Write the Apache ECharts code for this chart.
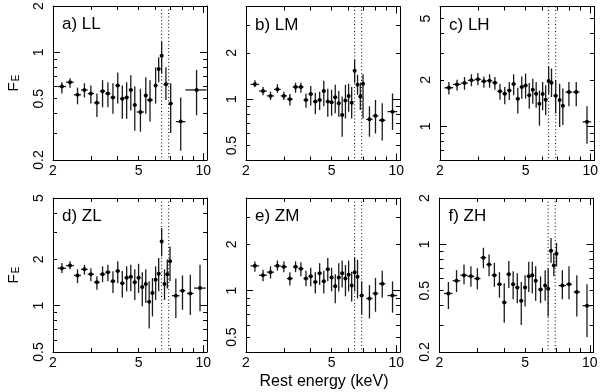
<!DOCTYPE html>
<html lang="en">
<head>
<meta charset="UTF-8">
<title>F_E vs rest energy</title>
<script src="https://cdn.jsdelivr.net/npm/echarts@6/dist/echarts.min.js"></script>
<style>
    html, body { margin: 0; padding: 0; background: #fff; }
    #chart { width: 600px; height: 392px; }
</style>
</head>
<body>
<div id="chart"></div>
<script type="text/javascript">
    // rows: [energy (keV), half bin width, F_E, lower, upper]
    const LL = [
        [2.2, 0.1, 0.60, 0.54, 0.64], [2.4, 0.1, 0.64, 0.59, 0.68], [2.6, 0.1, 0.53, 0.46, 0.59],
        [2.8, 0.1, 0.57, 0.51, 0.63], [3.0, 0.1, 0.54, 0.465, 0.61], [3.2, 0.1, 0.47, 0.38, 0.54],
        [3.4, 0.1, 0.56, 0.44, 0.66], [3.6, 0.1, 0.54, 0.44, 0.64], [3.8, 0.1, 0.51, 0.40, 0.63],
        [4.0, 0.1, 0.61, 0.465, 0.74], [4.2, 0.1, 0.50, 0.37, 0.61], [4.4, 0.1, 0.51, 0.37, 0.64],
        [4.6, 0.1, 0.57, 0.42, 0.71], [4.8, 0.1, 0.455, 0.31, 0.60], [5.1, 0.2, 0.41, 0.305, 0.58],
        [5.4, 0.08, 0.525, 0.40, 0.69], [5.65, 0.18, 0.49, 0.355, 0.66], [6.0, 0.1, 0.61, 0.465, 0.80],
        [6.2, 0.1, 0.78, 0.64, 0.93], [6.4, 0.1, 0.95, 0.73, 1.17], [6.7, 0.17, 0.62, 0.49, 0.80],
        [7.05, 0.15, 0.465, 0.30, 0.63], [7.85, 0.4, 0.355, 0.23, 0.51], [9.3, 1.05, 0.57, 0.39, 0.77]
    ];
    const LM = [
        [2.2, 0.1, 1.25, 1.20, 1.33], [2.4, 0.1, 1.13, 1.06, 1.20], [2.6, 0.1, 1.05, 0.99, 1.12],
        [2.8, 0.1, 1.16, 1.10, 1.25], [3.0, 0.1, 1.05, 0.99, 1.12], [3.2, 0.1, 1.00, 0.91, 1.08],
        [3.4, 0.1, 1.20, 1.10, 1.28], [3.6, 0.1, 1.20, 1.10, 1.28], [3.8, 0.1, 0.99, 0.88, 1.09],
        [4.0, 0.1, 1.08, 0.91, 1.22], [4.2, 0.1, 0.965, 0.80, 1.10], [4.4, 0.1, 0.99, 0.85, 1.12],
        [4.6, 0.1, 1.13, 0.90, 1.32], [4.8, 0.1, 0.965, 0.77, 1.17], [5.0, 0.1, 0.955, 0.78, 1.15],
        [5.2, 0.1, 1.03, 0.81, 1.24], [5.4, 0.1, 0.94, 0.77, 1.13], [5.6, 0.1, 0.79, 0.57, 1.04],
        [5.8, 0.1, 0.98, 0.75, 1.24], [6.0, 0.1, 1.05, 0.83, 1.26], [6.2, 0.1, 0.95, 0.75, 1.20],
        [6.4, 0.1, 1.53, 1.28, 1.80], [6.6, 0.1, 1.24, 1.07, 1.44], [6.8, 0.1, 1.04, 0.85, 1.28],
        [7.0, 0.1, 1.26, 0.75, 1.45], [7.5, 0.25, 0.74, 0.57, 0.90], [8.0, 0.25, 0.78, 0.60, 0.99],
        [8.6, 0.3, 0.73, 0.54, 0.94], [9.6, 0.5, 0.83, 0.63, 1.09]
    ];
    const LH = [
        [2.2, 0.1, 1.78, 1.61, 1.94], [2.4, 0.1, 1.87, 1.71, 2.01], [2.6, 0.1, 1.91, 1.73, 2.09],
        [2.8, 0.1, 1.99, 1.82, 2.18], [3.0, 0.1, 2.02, 1.85, 2.22], [3.2, 0.1, 1.96, 1.78, 2.11],
        [3.4, 0.1, 1.98, 1.78, 2.18], [3.6, 0.1, 1.92, 1.73, 2.09], [3.8, 0.1, 1.69, 1.49, 1.88],
        [4.0, 0.1, 1.63, 1.39, 1.80], [4.2, 0.1, 1.71, 1.48, 1.94], [4.4, 0.1, 1.88, 1.59, 2.18],
        [4.6, 0.1, 1.51, 1.21, 1.78], [4.8, 0.1, 1.80, 1.51, 2.11], [5.0, 0.1, 1.84, 1.51, 2.20],
        [5.2, 0.1, 1.59, 1.30, 1.91], [5.4, 0.1, 1.73, 1.40, 2.04], [5.6, 0.1, 1.63, 1.32, 1.94],
        [5.8, 0.1, 1.40, 1.01, 1.71], [6.0, 0.1, 1.62, 1.27, 1.94], [6.2, 0.1, 1.49, 1.18, 1.85],
        [6.4, 0.1, 1.97, 1.63, 2.43], [6.6, 0.1, 1.92, 1.55, 2.37], [6.9, 0.15, 1.58, 1.21, 1.99],
        [7.2, 0.12, 1.48, 0.99, 1.89], [7.45, 0.12, 1.36, 1.02, 1.76], [7.95, 0.3, 1.67, 1.35, 1.94],
        [8.6, 0.3, 1.67, 1.35, 1.94], [9.65, 0.45, 1.07, 0.77, 1.35]
    ];
    const ZL = [
        [2.2, 0.1, 1.75, 1.63, 1.89], [2.4, 0.1, 1.82, 1.72, 1.94], [2.6, 0.1, 1.57, 1.40, 1.72],
        [2.8, 0.1, 1.72, 1.59, 1.84], [3.0, 0.1, 1.60, 1.44, 1.75], [3.2, 0.1, 1.42, 1.27, 1.55],
        [3.4, 0.1, 1.60, 1.42, 1.80], [3.6, 0.1, 1.65, 1.44, 1.84], [3.8, 0.1, 1.44, 1.21, 1.67],
        [4.0, 0.1, 1.68, 1.40, 1.94], [4.2, 0.1, 1.40, 1.13, 1.68], [4.4, 0.1, 1.52, 1.24, 1.80],
        [4.6, 0.1, 1.54, 1.24, 1.84], [4.8, 0.1, 1.42, 1.09, 1.72], [5.0, 0.1, 1.52, 1.21, 1.87],
        [5.2, 0.1, 1.32, 0.99, 1.65], [5.4, 0.1, 1.38, 1.04, 1.72], [5.6, 0.1, 1.06, 0.71, 1.44],
        [5.8, 0.1, 1.21, 0.85, 1.51], [6.0, 0.1, 1.47, 1.09, 1.80], [6.2, 0.1, 1.61, 1.24, 2.04],
        [6.4, 0.1, 2.61, 2.09, 3.19], [6.6, 0.1, 1.38, 1.09, 1.72], [6.8, 0.1, 1.60, 1.29, 1.99],
        [7.0, 0.1, 1.94, 1.44, 2.42], [7.45, 0.3, 1.16, 0.83, 1.50], [8.0, 0.25, 1.25, 0.94, 1.57],
        [8.7, 0.3, 1.20, 0.87, 1.59], [9.65, 0.6, 1.30, 0.92, 1.84]
    ];
    const ZM = [
        [2.2, 0.1, 1.45, 1.33, 1.55], [2.4, 0.1, 1.26, 1.15, 1.37], [2.6, 0.1, 1.32, 1.20, 1.44],
        [2.8, 0.1, 1.45, 1.35, 1.57], [3.0, 0.1, 1.43, 1.32, 1.55], [3.2, 0.1, 1.20, 1.08, 1.32],
        [3.4, 0.1, 1.43, 1.32, 1.55], [3.6, 0.1, 1.39, 1.24, 1.53], [3.8, 0.1, 1.20, 1.07, 1.35],
        [4.0, 0.1, 1.24, 1.07, 1.41], [4.2, 0.1, 1.14, 0.96, 1.32], [4.4, 0.1, 1.30, 1.09, 1.51],
        [4.6, 0.1, 1.15, 0.96, 1.35], [4.8, 0.1, 1.38, 1.15, 1.63], [5.0, 0.1, 1.22, 0.99, 1.41],
        [5.2, 0.1, 1.07, 0.83, 1.28], [5.4, 0.1, 1.22, 0.99, 1.51], [5.6, 0.1, 1.30, 1.05, 1.57],
        [5.8, 0.1, 1.20, 0.92, 1.47], [6.0, 0.1, 1.27, 0.99, 1.57], [6.2, 0.1, 1.08, 0.85, 1.33],
        [6.4, 0.1, 1.32, 0.99, 1.65], [6.6, 0.1, 1.23, 0.89, 1.59], [6.9, 0.15, 0.93, 0.70, 1.15],
        [7.5, 0.25, 0.89, 0.66, 1.09], [8.0, 0.25, 0.96, 0.73, 1.21], [8.6, 0.3, 1.11, 0.90, 1.35],
        [9.6, 0.5, 0.93, 0.72, 1.15]
    ];
    const ZH = [
        [2.2, 0.1, 0.48, 0.38, 0.57], [2.4, 0.1, 0.58, 0.49, 0.68], [2.6, 0.1, 0.63, 0.55, 0.74],
        [2.8, 0.1, 0.62, 0.53, 0.72], [3.0, 0.1, 0.60, 0.51, 0.70], [3.2, 0.1, 0.82, 0.70, 0.95],
        [3.4, 0.1, 0.74, 0.62, 0.86], [3.6, 0.1, 0.63, 0.53, 0.76], [3.8, 0.1, 0.55, 0.45, 0.66],
        [4.0, 0.1, 0.42, 0.31, 0.56], [4.2, 0.1, 0.64, 0.52, 0.78], [4.4, 0.1, 0.55, 0.44, 0.67],
        [4.6, 0.1, 0.525, 0.415, 0.65], [4.8, 0.1, 0.43, 0.30, 0.57], [5.0, 0.1, 0.525, 0.395, 0.63],
        [5.2, 0.1, 0.62, 0.49, 0.77], [5.4, 0.1, 0.63, 0.48, 0.77], [5.6, 0.1, 0.58, 0.43, 0.72],
        [5.9, 0.15, 0.51, 0.415, 0.62], [6.2, 0.1, 0.54, 0.43, 0.68], [6.4, 0.1, 0.515, 0.34, 0.70],
        [6.6, 0.1, 0.91, 0.76, 1.10], [6.8, 0.1, 0.73, 0.62, 0.88], [7.0, 0.1, 0.87, 0.72, 1.02],
        [7.45, 0.3, 0.54, 0.44, 0.68], [8.0, 0.25, 0.55, 0.44, 0.72], [8.7, 0.3, 0.49, 0.34, 0.63],
        [9.7, 0.45, 0.40, 0.25, 0.55]
    ];

    const panelNames = ['a) LL', 'b) LM', 'c) LH', 'd) ZL', 'e) ZM', 'f) ZH'];
    const panelData = [LL, LM, LH, ZL, ZM, ZH];
    const xRange = [2, 10.4];
    const xLabels = [2, 5, 10];
    const yRanges = [[0.2, 2], [0.4, 4], [0.6, 6], [0.5, 5], [0.4, 4], [0.2, 2]];
    const yLabels = [[0.2, 0.5, 1, 2], [0.5, 1, 2], [1, 2, 5], [0.5, 1, 2, 5], [0.5, 1, 2], [0.2, 0.5, 1, 2]];
    const lineEnergies = [6.4, 6.9];

    const gridPos = [[53, 6], [246, 6.5], [440, 6.5], [53, 198], [246, 198], [439.5, 198]];
    const boxW = 154, boxH = 154;
    const font = 'Liberation Sans, Arial, Helvetica, sans-serif';
    const lg = Math.log10;

    // log ticks: k * 10^d inside [lo, hi]; decade=true gives only k == 1
    function logTicks(lo, hi, decade) {
        const out = [];
        for (let d = Math.floor(lg(lo)) - 1; d <= Math.ceil(lg(hi)); d++) {
            for (let k = 1; k <= 9; k++) {
                const v = k * Math.pow(10, d);
                if (v < lo * 0.9999 || v > hi * 1.0001) continue;
                if ((k === 1) === decade) out.push(lg(v));
            }
        }
        return out;
    }

    function fmt(v) {
        return String(parseFloat(Math.pow(10, v).toPrecision(2)));
    }

    function makeAxes(i, dim, range, labels) {
        const list = [];
        const sides = dim === 'x' ? ['bottom', 'top'] : ['left', 'right'];
        sides.forEach(function (side, s) {
            [false, true].forEach(function (decade) {
                const first = s === 0 && !decade;
                list.push({
                    gridIndex: i,
                    type: 'value',
                    position: side,
                    min: lg(range[0]),
                    max: lg(range[1]),
                    splitLine: {show: false},
                    axisLine: {show: !decade, onZero: false, lineStyle: {color: '#000', width: 1}},
                    axisTick: {
                        show: true, inside: true, length: decade ? 7 : 4,
                        customValues: logTicks(range[0], range[1], decade),
                        lineStyle: {color: '#000', width: 1}
                    },
                    axisLabel: first ? {
                        show: true,
                        customValues: labels.map(lg),
                        formatter: fmt,
                        rotate: dim === 'y' ? 90 : 0,
                        margin: dim === 'y' ? 7 : 4,
                        fontSize: 14,
                        fontFamily: font,
                        color: '#000'
                    } : {show: false}
                });
            });
        });
        return list;
    }

    function drawPoint(params, api) {
        const c = api.coord([api.value(0), api.value(1)]);
        const l = api.coord([api.value(2), api.value(1)]);
        const r = api.coord([api.value(3), api.value(1)]);
        const b = api.coord([api.value(0), api.value(4)]);
        const t = api.coord([api.value(0), api.value(5)]);
        const st = {stroke: '#1a1a1a', lineWidth: 1.3};
        return {
            type: 'group',
            children: [
                {type: 'line', shape: {x1: l[0], y1: c[1], x2: r[0], y2: c[1]}, style: st},
                {type: 'line', shape: {x1: c[0], y1: b[1], x2: c[0], y2: t[1]}, style: st},
                {type: 'circle', shape: {cx: c[0], cy: c[1], r: 2}, style: {fill: '#000'}}
            ]
        };
    }

    function drawFeLine(params, api) {
        const p = api.coord([api.value(0), api.value(1)]);
        const cs = params.coordSys;
        return {
            type: 'line',
            shape: {x1: p[0], y1: cs.y, x2: p[0], y2: cs.y + cs.height},
            style: {stroke: '#000', lineWidth: 1, lineDash: [1, 2.5]}
        };
    }

    const grids = [], xAxes = [], yAxes = [], series = [], graphics = [];
    panelData.forEach(function (rows, i) {
        grids.push({left: gridPos[i][0], top: gridPos[i][1], width: boxW, height: boxH, outerBoundsMode: 'none'});
        makeAxes(i, 'x', xRange, xLabels).forEach(a => xAxes.push(a));
        makeAxes(i, 'y', yRanges[i], yLabels[i]).forEach(a => yAxes.push(a));
        series.push({
            type: 'custom',
            xAxisIndex: 4 * i,
            yAxisIndex: 4 * i,
            renderItem: drawFeLine,
            encode: {x: 0, y: 1},
            data: lineEnergies.map(e => [lg(e), lg(yRanges[i][0])]),
            silent: true,
            z: 2
        });
        series.push({
            type: 'custom',
            xAxisIndex: 4 * i,
            yAxisIndex: 4 * i,
            renderItem: drawPoint,
            encode: {x: 0, y: 1},
            clip: true,
            data: rows.map(r => [lg(r[0]), lg(r[2]), lg(r[0] - r[1]), lg(r[0] + r[1]), lg(r[3]), lg(r[4])]),
            silent: true,
            z: 3
        });
        graphics.push({
            type: 'text',
            x: gridPos[i][0] + 9,
            y: gridPos[i][1] + 10,
            style: {text: panelNames[i], fontSize: 17, fontFamily: font, fill: '#000', align: 'left', verticalAlign: 'top'}
        });
    });

    [83, 275].forEach(function (cy) {
        graphics.push({
            type: 'text',
            x: 14,
            y: cy,
            rotation: Math.PI / 2,
            style: {
                text: '{f|F}{e|E}',
                align: 'center',
                verticalAlign: 'middle',
                fill: '#000',
                rich: {
                    f: {fontSize: 15, fontFamily: font},
                    e: {fontSize: 10, fontFamily: font, lineHeight: 8, verticalAlign: 'bottom', padding: [0, 0, 0, 1]}
                }
            }
        });
    });
    graphics.push({
        type: 'text',
        x: 324,
        y: 382,
        style: {text: 'Rest energy (keV)', fontSize: 16, fontFamily: font, fill: '#000', align: 'center', verticalAlign: 'middle'}
    });

    const myChart = echarts.init(document.getElementById('chart'));
    myChart.setOption({
        animation: false,
        backgroundColor: '#fff',
        grid: grids,
        xAxis: xAxes,
        yAxis: yAxes,
        series: series,
        graphic: graphics
    });
</script>
</body>
</html>
